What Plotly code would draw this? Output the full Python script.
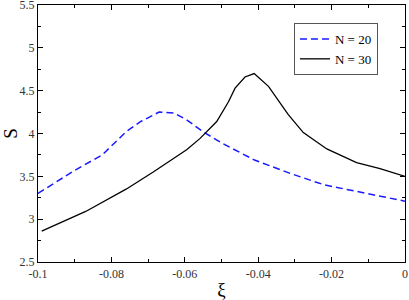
import plotly.graph_objects as go

# N = 20 (blue dashed)
xi_20 = [-0.1, -0.09, -0.0825, -0.079, -0.076, -0.072, -0.067, -0.063, -0.0595,
         -0.055, -0.05, -0.041, -0.031, -0.022, -0.013, 0.0]
s_20 = [3.30, 3.57, 3.75, 3.90, 4.02, 4.14, 4.25, 4.24, 4.16,
        4.02, 3.89, 3.69, 3.53, 3.40, 3.32, 3.21]

# N = 30 (black solid)
xi_30 = [-0.099, -0.087, -0.076, -0.0686, -0.0595, -0.0559, -0.0513, -0.0481, -0.0463,
         -0.0436, -0.0411, -0.0372, -0.0318, -0.0277, -0.0213, -0.0132, -0.0068, 0.0]
s_30 = [2.86, 3.09, 3.35, 3.55, 3.81, 3.94, 4.14, 4.37, 4.53,
        4.66, 4.70, 4.55, 4.22, 4.01, 3.82, 3.66, 3.59, 3.50]

x_ticks = [-0.1, -0.08, -0.06, -0.04, -0.02, 0]
x_labels = ["-0.1", "-0.08", "-0.06", "-0.04", "-0.02", "0"]
y_ticks = [2.5, 3, 3.5, 4, 4.5, 5, 5.5]
y_labels = ["2.5", "3", "3.5", "4", "4.5", "5", "5.5"]

fig = go.Figure()
fig.add_trace(go.Scatter(x=xi_20, y=s_20, mode="lines", name="N = 20",
                         line=dict(color="#1a1aff", width=1.5, dash="7px,4px")))
fig.add_trace(go.Scatter(x=xi_30, y=s_30, mode="lines", name="N = 30",
                         line=dict(color="black", width=1.3)))

axis_common = dict(
    showline=True, linecolor="black", linewidth=1.2, mirror="allticks",
    ticks="inside", ticklen=5, tickcolor="black", tickwidth=1,
    showgrid=False, zeroline=False, automargin=False,
    ticklabeloverflow="allow",
    tickfont=dict(family="Liberation Serif", size=12, color="#333"),
)

fig.update_xaxes(range=[-0.1, 0.0000001], tickvals=x_ticks, ticktext=x_labels,
                 minor=dict(ticks="inside", ticklen=3, dtick=0.01, tickcolor="black", showgrid=False),
                 title=dict(text="ξ", font=dict(family="Liberation Serif", size=19, color="black"), standoff=4),
                 **axis_common)
fig.update_yaxes(range=[2.4999999, 5.5000001], tickvals=y_ticks, ticktext=y_labels,
                 minor=dict(ticks="inside", ticklen=3, dtick=0.25, tickcolor="black", showgrid=False),
                 title=dict(text="S", font=dict(family="Liberation Serif", size=19, color="black"), standoff=6),
                 **axis_common)

fig.update_layout(
    width=409, height=300,
    margin=dict(l=38, r=4, t=5, b=38),
    paper_bgcolor="white", plot_bgcolor="white",
    showlegend=True,
    legend=dict(x=0.6975, y=0.93, xanchor="left", yanchor="top",
                bgcolor="white", bordercolor="#555", borderwidth=1,
                font=dict(family="Liberation Serif", size=13, color="black"),
                tracegroupgap=0, itemwidth=30),
)

# page body has an 8px default margin; drop it so the figure sits at the corner
fig.write_html("out.html", config={"displayModeBar": False},
               post_script="document.body.style.margin='0px';")
